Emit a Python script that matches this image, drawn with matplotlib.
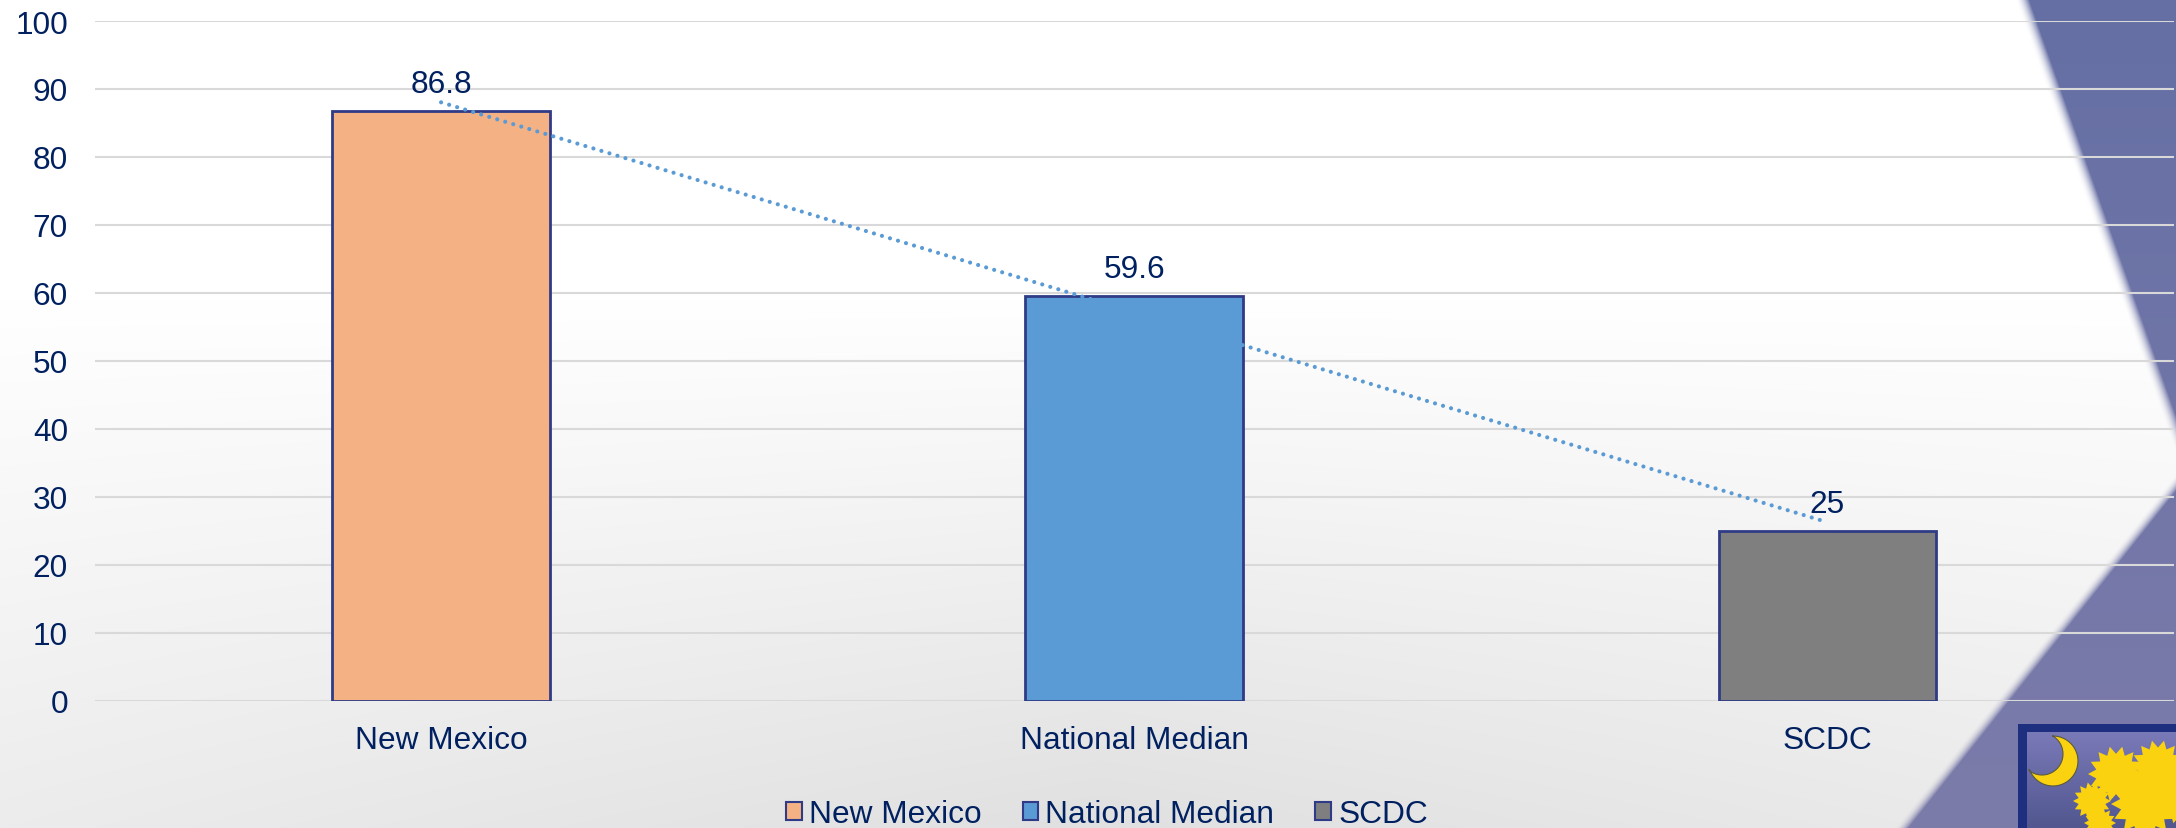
import numpy as np
import matplotlib
matplotlib.use('Agg')
import matplotlib.pyplot as plt
from matplotlib.patches import Patch, Polygon, Rectangle

categories = ['New Mexico', 'National Median', 'SCDC']
values = [86.8, 59.6, 25]
value_labels = ['86.8', '59.6', '25']
bar_colors = ['#F4B183', '#5B9BD5', '#7F7F7F']
y_ticks = [0, 10, 20, 30, 40, 50, 60, 70, 80, 90, 100]

W, H = 2176, 829
TEXT = '#002060'
EDGE = '#2F3B86'
FS = 22.8

plt.rcParams['font.family'] = ['Liberation Sans', 'DejaVu Sans']

fig = plt.figure(figsize=(W / 100, H / 100), dpi=100)

# slide background, pixel coordinates
bg = fig.add_axes([0, 0, 1, 1])
bg.axis('off')

yy, xx = np.mgrid[0:H, 0:W]
t = np.clip((yy - 300) / 529, 0, 1)
grey = 255 - t * (19 + 12 * (1 - np.abs(xx - 1100) / 1100))
upper = 2024.5 + 0.353 * yy
lower = 2005 - 0.794 * (yy - 701)
edge_x = np.minimum(upper, lower)
blue_amt = np.clip((xx - edge_x) / 14 + 0.7, 0, 1) ** 2
top_col = np.array([101, 111, 164])
bot_col = np.array([124, 124, 170])
s = (yy / H)[..., None]
blue = top_col * (1 - s) + bot_col * s
img = grey[..., None] * (1 - blue_amt[..., None]) + blue * blue_amt[..., None]
bg.imshow(img.astype(np.uint8), extent=(0, W, H, 0), aspect='auto', zorder=0)

# state flag logo in the corner
bg.add_patch(Rectangle((2018, 725), 170, 120, fc='#1F2F80', ec='none', zorder=1))
inner = np.linspace(0, 1, 96)[:, None]
inner = np.stack([122 - 40 * inner, 122 - 35 * inner, 184 - 40 * inner], axis=-1)
bg.imshow(inner.astype(np.uint8), extent=(2027, W, H, 733), aspect='auto', zorder=2)
bg.set_xlim(0, W)
bg.set_ylim(H, 0)


def crescent():
    a = np.radians(np.linspace(-90, 161, 40))
    outer = np.c_[2053 + 25 * np.cos(a), 762 + 25 * np.sin(a)]
    b = np.radians(np.linspace(129, -61, 40))
    inner_pts = np.c_[2042 + 21 * np.cos(b), 755 + 21 * np.sin(b)]
    return np.r_[outer, inner_pts]


bg.add_patch(Polygon(crescent(), fc='#FBD20F', ec='#5A5A40', lw=0.8, zorder=3))


def frond(cx, cy, r, n=14):
    a = np.linspace(0, 2 * np.pi, 2 * n, endpoint=False)
    rad = np.where(np.arange(2 * n) % 2 == 0, r, r * 0.72)
    return np.c_[cx + rad * np.cos(a), cy + rad * np.sin(a)]


for cx, cy, r in [(2116, 775, 28), (2158, 768, 27), (2092, 802, 19), (2145, 805, 34), (2100, 824, 16), (2180, 795, 30)]:
    bg.add_patch(Polygon(frond(cx, cy, r), fc='#FBD20F', ec='none', zorder=3))

# chart
x0, x1, y0, y100 = 94.5, 2174, 701.5, 22
ax = fig.add_axes([x0 / W, (H - y0) / H, (x1 - x0) / W, (y0 - y100) / H])
ax.patch.set_alpha(0)
x = np.arange(len(categories))
ax.bar(x, values, width=0.314, color=bar_colors, edgecolor=EDGE, linewidth=2, zorder=3)

# linear trendline of the three values
fit = np.polyfit(x, values, 1)
ax.plot(x, np.polyval(fit, x), color='#5B9BD5', lw=3, linestyle=(0, (0.01, 2.0)),
        dash_capstyle='round', zorder=4)

for xi, v, lab in zip(x, values, value_labels):
    ax.annotate(lab, (xi, v), xytext=(0, 19), textcoords='offset points', ha='center', va='center',
                fontsize=FS, color=TEXT, zorder=5)

ax.set_xlim(-0.5, 2.5)
ax.set_ylim(0, 100)
ax.set_yticks(y_ticks)
ax.set_xticks(x)
ax.set_xticklabels(categories)
ax.tick_params(axis='both', length=0, labelsize=FS, labelcolor=TEXT)
ax.tick_params(axis='y', pad=19)
ax.tick_params(axis='x', pad=18)
ax.grid(axis='y', color='#D9D9D9', lw=1.5, zorder=1)
ax.set_axisbelow(True)
for sp in ax.spines.values():
    sp.set_visible(False)

handles = [Patch(fc=c, ec=EDGE, lw=1.5, label=n) for c, n in zip(bar_colors, categories)]
fig.legend(handles=handles, loc='center', bbox_to_anchor=(1107 / W, 1 - 815 / H), ncol=3, frameon=False,
           fontsize=FS, labelcolor=TEXT, handlelength=0.5, handleheight=0.5, handletextpad=0.22,
           columnspacing=1.3, borderpad=0)

fig.savefig('out.png', dpi=100)
